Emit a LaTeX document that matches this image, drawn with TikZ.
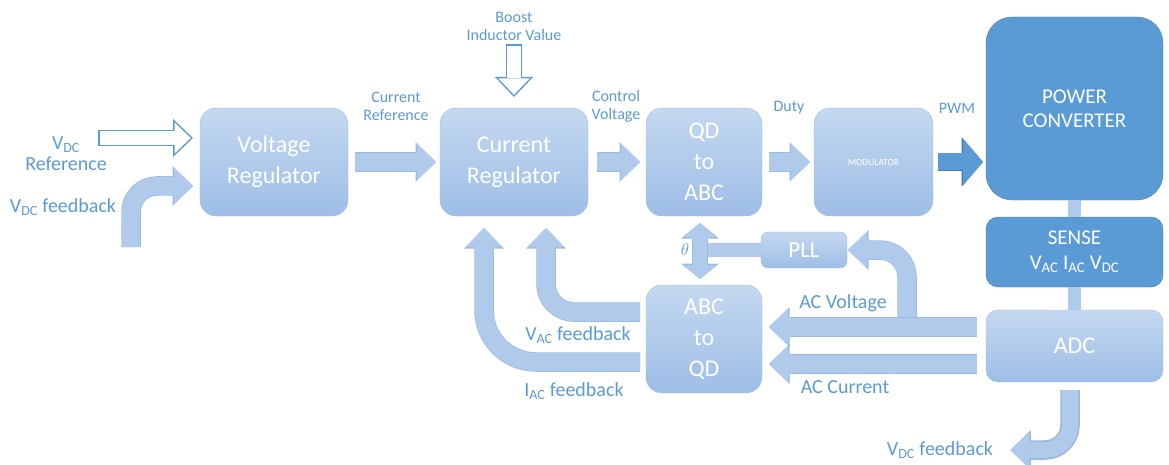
\documentclass[tikz,border=0pt]{standalone}
\usepackage{fontspec}
\setmainfont{Carlito}
\usetikzlibrary{arrows.meta,positioning}
\definecolor{ink}{HTML}{5B9BD5}
\definecolor{litetop}{HTML}{C4D8F0}
\definecolor{litebot}{HTML}{9EBEE6}
\definecolor{liteedge}{HTML}{A0BEE4}
\definecolor{deep}{HTML}{5B9BD5}
\definecolor{deepedge}{HTML}{4879B3}
\definecolor{arrfill}{HTML}{AFCAEB}
\definecolor{arredge}{HTML}{9BBAE2}

\begin{document}
\begin{tikzpicture}[x=1pt,y=-1pt,
    box/.style={rounded corners=16pt,align=center,text=white,inner sep=0pt,outer sep=0pt,minimum height=108pt,font=\fontsize{24}{31}\selectfont},
    litebox/.style={box,draw=liteedge,top color=litetop,bottom color=litebot},
    deepbox/.style={box,draw=deepedge,fill=deep,font=\fontsize{21}{24}\selectfont},
    note/.style={text=ink,align=center,inner sep=0pt,font=\fontsize{20}{21}\selectfont},
    smallnote/.style={note,font=\fontsize{16}{18}\selectfont},
    flow/.style={draw=arrfill,line width=18pt,shorten <=7pt,shorten >=4pt,
      -{Triangle[length=19pt,width=37pt,line width=0pt]},
      preaction={draw=arredge,line width=19.5pt,-{Triangle[length=20.5pt,width=39.5pt,line width=0pt]}}},
    flowtwo/.style={draw=arrfill,line width=14pt,shorten <=7pt,shorten >=6pt,
      {Triangle[length=14pt,width=35pt,line width=0pt]}-{Triangle[length=14pt,width=35pt,line width=0pt]},
      preaction={draw=arredge,line width=15.5pt,{Triangle[length=15.5pt,width=37.5pt,line width=0pt]}-{Triangle[length=15.5pt,width=37.5pt,line width=0pt]}}},
    darkflow/.style={draw=deep,line width=17pt,shorten <=5pt,shorten >=3pt,
      -{Triangle[length=20pt,width=47pt,line width=0pt]},
      preaction={draw=deepedge,line width=18.5pt,-{Triangle[length=21.5pt,width=49.5pt,line width=0pt]}}},
    hollow/.style={draw=white,line width=13.5pt,shorten <=1.5pt,shorten >=2.2pt,
      -{Triangle[length=16.3pt,width=31pt,line width=0pt]},
      preaction={draw=ink,line width=16.5pt,shorten <=0pt,shorten >=0pt,-{Triangle[length=20pt,width=38pt,line width=0pt]}}},
    link/.style={draw=arrfill,line width=13pt}
  ]
  \useasboundingbox (0,0) rectangle (1169,465);

  % blocks
  \node[litebox,minimum width=148pt] (vreg) at (274,162) {Voltage\\Regulator};
  \node[litebox,minimum width=148pt,right=92pt of vreg] (creg) {Current\\Regulator};
  \node[litebox,minimum width=116pt,right=58pt of creg] (qdabc) {QD\\to\\ABC};
  \node[litebox,minimum width=119pt,right=52pt of qdabc,font=\fontsize{9.5}{9.5}\selectfont] (mod) {MODULATOR};
  \node[deepbox,minimum width=177pt,minimum height=183pt,rounded corners=26pt] (pc) at (1074.5,108.5) {POWER\\CONVERTER};
  \node[deepbox,minimum width=177pt,minimum height=70pt,rounded corners=12pt,below=17pt of pc,font=\fontsize{21}{25}\selectfont] (sense) {SENSE\\V\textsubscript{AC} I\textsubscript{AC} V\textsubscript{DC}};
  \node[litebox,minimum width=177pt,minimum height=72pt,rounded corners=12pt,below=23pt of sense] (adc) {ADC};
  \node[litebox,minimum width=116pt,below=69pt of qdabc] (abcqd) {ABC\\to\\QD};
  \node[litebox,minimum width=86pt,minimum height=36pt,rounded corners=7pt,font=\fontsize{23}{23}\selectfont] (pll) at (804,250) {PLL};

  % labels
  \node[note] (vdcref) at (66,154) {V\textsubscript{DC}\\Reference};
  \node[note] (vdcfb) at (63,207) {V\textsubscript{DC} feedback};
  \node[smallnote] (curref) at (396,106) {Current\\Reference};
  \node[smallnote] (boost) at (514,26) {Boost\\Inductor Value};
  \node[smallnote] (ctrlv) at (616,106) {Control\\Voltage};
  \node[smallnote] (duty) at (789,108) {Duty};
  \node[smallnote] (pwm) at (957,108) {PWM};
  \node[note] (acvtxt) at (843,303) {AC Voltage};
  \node[note] (acctxt) at (845,387) {AC Current};
  \node[note] (vacfb) at (578,335) {V\textsubscript{AC} feedback};
  \node[note] (iacfb) at (574,391) {I\textsubscript{AC} feedback};
  \node[note,font=\fontsize{19}{19}\selectfont] (theta) at (685,249) {$\theta$};
  \node[note] (vdcout) at (940,450) {V\textsubscript{DC} feedback};

  \coordinate (refin) at (98,138);
  \coordinate (fbin) at (131,247);
  \coordinate (acv) at (907,324);
  \coordinate (tx) at ([xshift=-4pt]qdabc.south);

  % forward path
  \draw[hollow] (refin) -- ([xshift=-7pt,yshift=24pt]vreg.west);
  \draw[hollow] ([yshift=-4pt]boost.south) -- ([yshift=11pt]creg.north);
  \draw[flow,rounded corners=26pt,shorten <=0pt,shorten >=7pt] (fbin) |- ([yshift=-24pt]vreg.west);
  \draw[flow] (vreg) -- (creg);
  \draw[flow,shorten <=9pt,shorten >=6pt] (creg) -- (qdabc);
  \draw[flow] (qdabc) -- (mod);
  \draw[darkflow] (mod) -- (mod -| pc.west);
  \draw[link] (pc) -- (sense);
  \draw[link] (sense) -- (adc);

  % feedback path
  \draw[flow,rounded corners=27pt,shorten <=0pt,shorten >=1pt] (acv) |- (pll.east);
  \draw[flow,shorten <=9pt,shorten >=7pt] ([yshift=19pt]adc.west) -- ([yshift=19pt]adc.west -| abcqd.east);
  \draw[flow,shorten <=9pt,shorten >=7pt] ([yshift=-18pt]adc.west) -- ([yshift=-18pt]adc.west -| abcqd.east);
  \draw[link,line width=14pt] (pll.west) -- (pll.west -| tx);
  \draw[flowtwo] (tx) -- (tx |- abcqd.north);
  \draw[flow,rounded corners=28pt,shorten <=6pt,shorten >=12pt] ([yshift=27pt]abcqd.west) -| ([xshift=32pt]creg.south);
  \draw[flow,rounded corners=52pt,shorten <=6pt,shorten >=12pt] ([yshift=-23pt]abcqd.west) -| ([xshift=-30pt]creg.south);
  \draw[flow,line width=16pt,rounded corners=25pt,shorten <=8pt,shorten >=17pt] ([xshift=-4.5pt]adc.south) |- (vdcout.east);
\end{tikzpicture}
\end{document}
